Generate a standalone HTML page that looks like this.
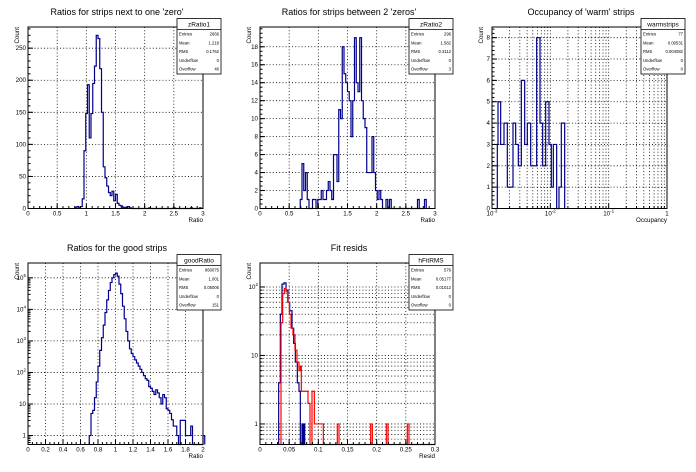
<!DOCTYPE html>
<html><head><meta charset="utf-8"><style>
html,body{margin:0;padding:0;background:#fff;}
svg{display:block;font-family:"Liberation Sans",Arial,sans-serif;}
</style></head><body>
<svg id="c" width="696" height="472" viewBox="0 0 696 472" xmlns="http://www.w3.org/2000/svg"></svg>
<script>
var S=document.getElementById('c');var out='';
function L(x1,y1,x2,y2,st){out+='<line x1="'+x1+'" y1="'+y1+'" x2="'+x2+'" y2="'+y2+'" '+(st||'stroke="#000" stroke-width="1"')+'/>';}
function T(x,y,s,sz,anc,extra){out+='<text x="'+x+'" y="'+y+'" font-size="'+sz+'" text-anchor="'+(anc||'middle')+'" '+(extra||'')+'>'+s+'</text>';}
function pad(ox,oy,c){
 var X0=ox+28,X1=ox+203,Y0=oy+27,Y1=oy+208.5;
 function fx(v){var u=c.xlog?(Math.log10(v)-Math.log10(c.xmin))/(Math.log10(c.xmax)-Math.log10(c.xmin)):(v-c.xmin)/(c.xmax-c.xmin);return X0+u*(X1-X0);}
 function fy(v){var u;if(c.ylog){if(v<=c.ymin)return Y1;u=(Math.log10(v)-Math.log10(c.ymin))/(Math.log10(c.ymax)-Math.log10(c.ymin));}else u=(v-c.ymin)/(c.ymax-c.ymin);u=Math.min(u,1);return Y1-u*(Y1-Y0);}
 var g='stroke="#000" stroke-width="0.8" stroke-dasharray="1,2.2"';
 c.xgrid.forEach(function(v){var x=fx(v);L(x,Y0,x,Y1,g);});
 c.ygrid.forEach(function(v){var y=fy(v);L(X0,y,X1,y,g);});
 c.series.forEach(function(s){
  var d='M'+(s.px?s.b[0][0]:fx(s.b[0][0])).toFixed(2)+','+Y1;
  s.b.forEach(function(b){var xa=s.px?b[0]:fx(b[0]),xb=s.px?b[1]:fx(b[1]);var y=fy(b[2]);d+=' L'+xa.toFixed(2)+','+y.toFixed(2)+' L'+xb.toFixed(2)+','+y.toFixed(2);});
  var last=s.b[s.b.length-1];d+=' L'+(s.px?last[1]:fx(last[1])).toFixed(2)+','+Y1;
  out+='<path d="'+d+'" fill="none" stroke="'+s.col+'" stroke-width="1.2"/>';
 });
 out+='<rect x="'+X0+'" y="'+Y0+'" width="'+(X1-X0)+'" height="'+(Y1-Y0)+'" fill="none" stroke="#000" stroke-width="1"/>';
 c.xmaj.forEach(function(t){var x=fx(t[0]);L(x,Y1,x,Y1-5);T(x,Y1+7,t[1],6.2);});
 c.xmin_.forEach(function(v){var x=fx(v);L(x,Y1,x,Y1-2.5);});
 c.ymaj.forEach(function(t){var y=fy(t[0]);L(X0,y,X0+5,y);T(X0-2,y+2,t[1],6.2,'end');});
 c.ymin_.forEach(function(v){var y=fy(v);L(X0,y,X0+2.5,y);});
 T(ox+117,oy+15,c.title,9);
 T(X1,oy+222,c.xt,6.2,'end');
 T(0,0,'Count',6.2,'end','transform="translate('+(ox+19)+','+(oy+27)+') rotate(-90)"');
 var bx=ox+177,by=oy+18.5,bw=44,bh=55.5;
 out+='<rect x="'+bx+'" y="'+by+'" width="'+bw+'" height="'+bh+'" fill="#fff" stroke="#000" stroke-width="0.8"/>';
 L(bx,by+11,bx+bw,by+11,'stroke="#000" stroke-width="0.8"');
 T(bx+bw/2,by+8,c.stats[0],6.5);
 var lab=['Entries','Mean','RMS','Underflow','Overflow'];
 for(var i=0;i<5;i++){var yy=by+17+i*8.8;T(bx+2,yy,lab[i],4.2,'start');T(bx+bw-2,yy,c.stats[i+1],4.2,'end');}
}
function rng(a,b,s){var r=[];for(var v=a;v<=b+1e-9;v+=s)r.push(+v.toFixed(6));return r;}
function mk(start,step,vals){return vals.map(function(v,i){return [start+i*step,start+(i+1)*step,v];});}
function logMinors(a,b){var r=[];for(var e=a;e<b;e++)for(var k=2;k<=9;k++)r.push(k*Math.pow(10,e));return r;}

var v1=[2,3,1,3,15,90,148,193,110,148,195,222,270,265,218,150,65,48,35,25,20,27,12,22,8,5,4,2,1,2,3,1,0,0,0,0,0,0,0,0,0,0,1,0,0,0,0,0,0,0,0,0,0,0,0,0,1,0,0,0,0,0,0,0,0,0,1,0,0,0,0,1];
pad(0,0,{xmin:0,xmax:3,ymin:0,ymax:283,title:"Ratios for strips next to one 'zero'",xt:'Ratio',
 stats:['zRatio1','2666','1.218','0.1762','0','46'],
 xgrid:rng(0.5,2.5,0.5),ygrid:[50,100,150,200,250],
 xmaj:[[0,'0'],[0.5,'0.5'],[1,'1'],[1.5,'1.5'],[2,'2'],[2.5,'2.5'],[3,'3']],xmin_:rng(0,3,0.1),
 ymaj:[[0,'0'],[50,'50'],[100,'100'],[150,'150'],[200,'200'],[250,'250']],ymin_:rng(0,280,10),
 series:[{col:'#00008b',b:mk(0.81,0.03,v1)}]});
var v2=[1,5,2,4,1,0,0,1,1,0,1,1,2,1,1,2,3,2,1,6,6,3,11,10,18,15,14,13,12,8,12,19,14,13,19,12,10,9,4,4,4,8,4,2,1,2,1,0,0,1,0,1,0,0,0,0,0,0,0,0,0,0,0,0,0,0,0,1,0,0,0,1];
pad(232,0,{xmin:0,xmax:3,ymin:0,ymax:20.2,title:"Ratios for strips between 2 'zeros'",xt:'Ratio',
 stats:['zRatio2','296','1.582','0.3112','0','3'],
 xgrid:rng(0.5,2.5,0.5),ygrid:[2,4,6,8,10,12,14,16,18],
 xmaj:[[0,'0'],[0.5,'0.5'],[1,'1'],[1.5,'1.5'],[2,'2'],[2.5,'2.5'],[3,'3']],xmin_:rng(0,3,0.1),
 ymaj:rng(0,18,2).map(function(v){return [v,''+v];}),ymin_:rng(0,20,0.5),
 series:[{col:'#00008b',b:mk(0.69,0.03,v2)}]});
var p3=[[100,102,3],[102,110,5],[110,120,3],[120,130,4],[130,147,1],[147,155,4],[155,163,3],[163,172,2],[172,182,6],[182,190,3],[190,200,4],[200,218,2],[218,228,8],[228,236,4],[236,245,2],[245,255,5],[255,262,3],[262,268,1],[268,278,3],[278,285,0],[285,292,1],[292,302,4]];
var ox3=464;
pad(ox3,0,{xlog:1,xmin:0.001,xmax:1,ymin:0,ymax:8.5,title:"Occupancy of 'warm' strips",xt:'Occupancy',
 stats:['warmstrips','77','0.00531','0.004082','0','0'],
 xgrid:[0.01,0.1].concat(logMinors(-3,0)),ygrid:[1,2,3,4,5,6,7,8],
 xmaj:[[0.001,'10<tspan font-size="4.5" dy="-3">-3</tspan>'],[0.01,'10<tspan font-size="4.5" dy="-3">-2</tspan>'],[0.1,'10<tspan font-size="4.5" dy="-3">-1</tspan>'],[1,'1']],xmin_:logMinors(-3,0),
 ymaj:rng(0,8,1).map(function(v){return [v,''+v];}),ymin_:rng(0,8.4,0.2),
 series:[{col:'#00008b',px:1,b:p3.map(function(b){return [ox3+b[0]/3,ox3+b[1]/3,b[2]];})}]});
var l4=[0,0.7,0.8,1.2,1.7,2.2,2.7,3.1,3.5,3.9,4.3,4.6,4.85,5.0,5.1,5.15,5.05,4.8,4.5,4.1,3.7,3.3,3.0,2.75,2.6,2.5,2.4,2.3,2.2,2.1,2.0,1.9,1.8,1.75,1.55,1.5,1.4,1.3,1.45,1.35,1.2,1.0,1.3,1.2,0.85,0.8,0.7,0.5,0.3,0.3,0,-1,0.48,0.48,0.48,0,0,0,0.3,-1,-1,-1,-1,-1,-1,0];
pad(0,236,{ylog:1,xmin:0,xmax:2,ymin:0.52,ymax:Math.pow(10,5.47),title:"Ratios for the good strips",xt:'Ratio',
 stats:['goodRatio','860075','1.001','0.05006','0','151'],
 xgrid:rng(0.2,1.8,0.2),ygrid:[1,10,100,1000,1e4,1e5],
 xmaj:rng(0,2,0.2).map(function(v){return [v,(v==0||v==1||v==2)?''+v:v.toFixed(1)];}),xmin_:rng(0,2,0.05),
 ymaj:[[1,'1'],[10,'10'],[100,'10<tspan font-size="4.5" dy="-3">2</tspan>'],[1000,'10<tspan font-size="4.5" dy="-3">3</tspan>'],[1e4,'10<tspan font-size="4.5" dy="-3">4</tspan>'],[1e5,'10<tspan font-size="4.5" dy="-3">5</tspan>']],
 ymin_:logMinors(-1,5).filter(function(v){return v>0.52&&v<2.9e5;}),
 series:[{col:'#00008b',b:mk(0.70,0.02,l4.map(function(v){return v<0?0:Math.pow(10,v);}))}]});
var ox5=232,oy5=236;
function cv(arr){return arr.map(function(b){return [ox5+b[0]/3,ox5+b[1]/3,b[2]];});}
var blue=[[140,145,4],[145,150,40],[150,156,110],[156,162,115],[162,168,90],[168,173,60],[173,180,45],[180,185,25],[185,190,15],[190,196,8],[196,201,4],[201,205,3],[205,210,0],[210,213,1],[213,215,0],[215,218,1]];
var red=[[147,152,30],[152,157,80],[157,162,95],[162,167,85],[167,172,60],[172,177,40],[177,183,25],[183,189,20],[189,195,12],[195,201,8],[201,205,6],[205,208,7],[208,228,3],[228,234,2],[234,240,0.3],[240,247,3],[247,254,1],[254,274,1],[274,316,0],[316,321,1],[321,416,0],[416,421,1],[421,463,0],[463,468,1],[468,526,0],[526,531,1],[531,609,0]];
var ymin5=Math.pow(10,-0.3),ymax5=Math.pow(10,2.35);
pad(ox5,oy5,{ylog:1,xmin:0,xmax:0.3,ymin:ymin5,ymax:ymax5,title:"Fit resids",xt:'Resid',
 stats:['hFitRMS','576','0.05177','0.01012','0','0'],
 xgrid:rng(0.05,0.25,0.05),ygrid:[1,10,100].concat(logMinors(-1,2).filter(function(v){return v>ymin5&&v<ymax5;})),
 xmaj:[[0,'0'],[0.05,'0.05'],[0.1,'0.1'],[0.15,'0.15'],[0.2,'0.2'],[0.25,'0.25'],[0.3,'0.3']],xmin_:rng(0,0.3,0.01),
 ymaj:[[1,'1'],[10,'10'],[100,'10<tspan font-size="4.5" dy="-3">2</tspan>']],
 ymin_:logMinors(-1,2).filter(function(v){return v>ymin5&&v<ymax5;}),
 series:[{col:'#00008b',px:1,b:cv(blue)},{col:'#ff0000',px:1,b:cv(red)}]});
S.innerHTML=out;
</script>
</body></html>
